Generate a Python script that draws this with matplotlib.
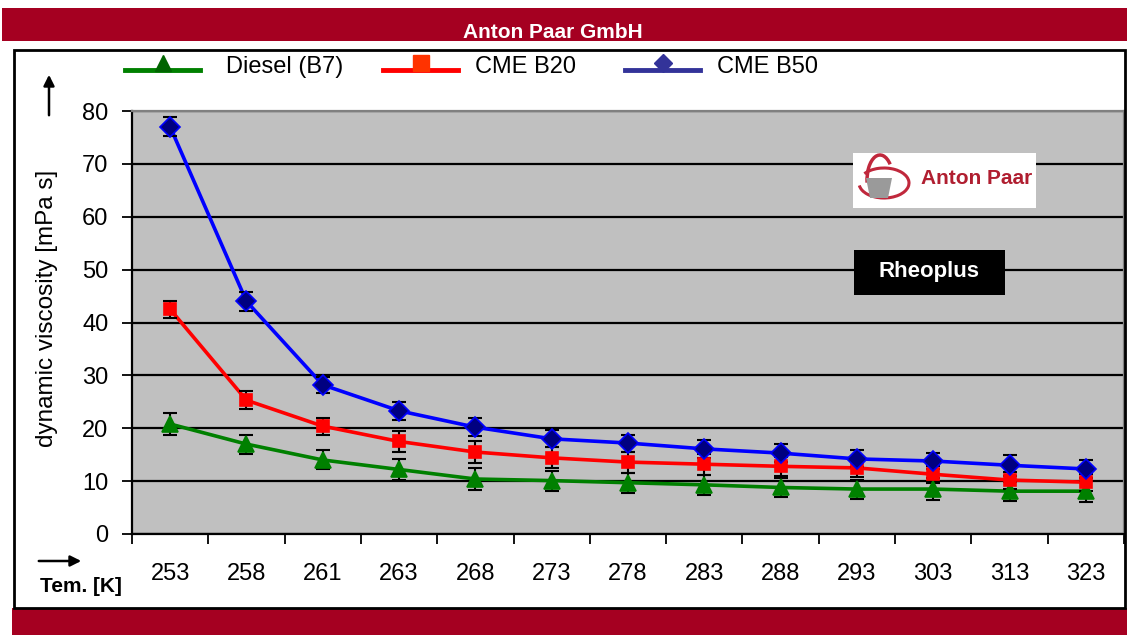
import matplotlib
matplotlib.use("Agg")
import matplotlib.pyplot as plt
from matplotlib.lines import Line2D
from matplotlib.patches import Rectangle, Arc, Polygon
import numpy as np

plt.rcParams['font.family'] = ['Liberation Sans', 'DejaVu Sans']

# Dados
temperaturas = ["253", "258", "261", "263", "268", "273", "278", "283", "288", "293", "303", "313", "323"]
diesel_b7 = [20.8, 17.0, 14.0, 12.2, 10.4, 10.1, 9.7, 9.3, 8.8, 8.5, 8.5, 8.1, 8.1]
cme_b20 = [42.5, 25.3, 20.4, 17.5, 15.5, 14.4, 13.6, 13.2, 12.8, 12.5, 11.3, 10.2, 9.8]
cme_b50 = [77.0, 44.0, 28.2, 23.3, 20.2, 18.0, 17.2, 16.1, 15.3, 14.2, 13.8, 13.0, 12.3]
erro_b7 = [2.0, 1.8, 1.8, 2.0, 2.0, 1.9, 1.9, 1.9, 1.8, 1.8, 2.0, 1.8, 2.0]
erro_b20 = [1.6, 1.7, 1.6, 1.9, 2.0, 2.0, 2.0, 2.0, 1.8, 1.8, 1.6, 1.6, 1.6]
erro_b50 = [1.8, 1.8, 1.5, 1.7, 1.7, 1.6, 1.6, 1.7, 1.7, 1.6, 1.6, 2.0, 1.7]
nomes = ["Diesel (B7)", "CME B20", "CME B50"]

W, H = 1127, 635
fig = plt.figure(figsize=(W / 100, H / 100), dpi=100)
fig.patch.set_facecolor("white")

def fx(px):
    return px / W

def fy(py):
    return 1 - py / H

vermelho = "#A50021"

# faixas vermelhas e moldura
fig.patches.append(Rectangle((fx(2), fy(41)), fx(1125), 33 / H, transform=fig.transFigure,
                             facecolor=vermelho, edgecolor="none"))
fig.patches.append(Rectangle((fx(12), 0), fx(1115), 27 / H, transform=fig.transFigure,
                             facecolor=vermelho, edgecolor="none"))
fig.patches.append(Rectangle((fx(14), fy(608)), fx(1111), 558 / H, transform=fig.transFigure,
                             facecolor="none", edgecolor="black", linewidth=2.0))
fig.text(fx(553), fy(32), "Anton Paar GmbH", color="white", fontsize=15, fontweight="bold",
         ha="center", va="center")

ax = fig.add_axes([fx(132), fy(534), fx(1124 - 132), (534 - 111) / H])
ax.set_facecolor("#C0C0C0")

x = np.arange(len(temperaturas))
series = [
    (diesel_b7, erro_b7, "#008000", "#008000", "^", 11),
    (cme_b20, erro_b20, "#FF0000", "#FF0000", "s", 9),
    (cme_b50, erro_b50, "#0000FF", "#000080", "D", 10),
]
for y, e, cor, cor_marc, marc, ms in series:
    ax.plot(x, y, color=cor, linewidth=2.6, zorder=3)
    ax.errorbar(x, y, yerr=e, fmt="none", ecolor="black", elinewidth=1.5,
                capsize=5, capthick=1.5, zorder=4)
    ax.plot(x, y, linestyle="none", marker=marc, markersize=ms, markerfacecolor=cor_marc,
            markeredgecolor=cor, markeredgewidth=1.2, zorder=5)

ax.set_xlim(-0.5, len(temperaturas) - 0.5)
ax.set_ylim(0, 80)
ax.set_yticks(np.arange(0, 81, 10))
ax.yaxis.grid(True, color="black", linewidth=1.6)
ax.set_axisbelow(True)
ax.set_xticks(np.arange(-0.5, len(temperaturas), 1))
ax.set_xticklabels([])
ax.set_xticks(x, minor=True)
ax.set_xticklabels(temperaturas, minor=True)
ax.tick_params(axis="x", which="major", direction="out", length=7, width=1.3, color="black")
ax.tick_params(axis="x", which="minor", length=0, pad=21, labelsize=17)
ax.tick_params(axis="y", direction="out", length=7, width=1.3, labelsize=17, pad=10)
for lado in ["left", "bottom"]:
    ax.spines[lado].set_linewidth(1.6)
    ax.spines[lado].set_color("black")
for lado in ["top", "right"]:
    ax.spines[lado].set_color("#808080")
    ax.spines[lado].set_linewidth(1.6)

# rótulos dos eixos
fig.text(fx(47), fy(308), "dynamic viscosity [mPa s]", rotation=90, fontsize=17.5,
         ha="center", va="center")
fig.text(fx(40), fy(586), "Tem. [K]", fontsize=15, fontweight="bold", ha="left", va="center")
fig.add_artist(plt.Annotation("", xy=(fx(49), fy(72)), xytext=(fx(49), fy(118)),
                              xycoords="figure fraction",
                              arrowprops=dict(arrowstyle="-|>", color="black", lw=1.8,
                                              mutation_scale=16)))
fig.add_artist(plt.Annotation("", xy=(fx(84), fy(561)), xytext=(fx(36), fy(561)),
                              xycoords="figure fraction",
                              arrowprops=dict(arrowstyle="-|>", color="black", lw=1.8,
                                              mutation_scale=16)))

# legenda desenhada à mão
leg_x = [125, 383, 625]
leg_txt = [226, 475, 717]
leg_cores = [("#008000", "#006400", "^", 12), ("#FF0000", "#FF3300", "s", 11),
             ("#333399", "#333399", "D", 9)]
for lx, tx, nome, (cor, cor_m, marc, ms) in zip(leg_x, leg_txt, nomes, leg_cores):
    fig.add_artist(Line2D([fx(lx), fx(lx + 75)], [fy(70), fy(70)], color=cor, linewidth=3.5,
                          transform=fig.transFigure))
    fig.add_artist(Line2D([fx(lx + 38)], [fy(63)], marker=marc, markersize=ms, color=cor_m,
                          markeredgecolor=cor_m, transform=fig.transFigure))
    fig.text(fx(tx), fy(67), nome, fontsize=17, ha="left", va="center")

# logotipo
fig.patches.append(Rectangle((fx(853), fy(208)), fx(183), 55 / H, transform=fig.transFigure,
                             facecolor="white", edgecolor="none", zorder=6))
fig.patches.append(Arc((fx(884), fy(183)), fx(50), 30 / H, theta1=190, theta2=500,
                       transform=fig.transFigure, color="#C0283C", linewidth=2.2, zorder=7))
fig.patches.append(Arc((fx(880), fy(180)), fx(26), 50 / H, theta1=70, theta2=200,
                       transform=fig.transFigure, color="#C0283C", linewidth=2.5, zorder=7))
fig.patches.append(Polygon([(fx(866), fy(178)), (fx(892), fy(178)), (fx(888), fy(198)),
                            (fx(870), fy(198))], closed=True, transform=fig.transFigure,
                           facecolor="#9A9A9A", edgecolor="none", zorder=7))
fig.text(fx(921), fy(178), "Anton Paar", color="#B01E30", fontsize=15, fontweight="bold",
         ha="left", va="center", zorder=8)

# caixa Rheoplus
fig.patches.append(Rectangle((fx(854), fy(295)), fx(151), 45 / H, transform=fig.transFigure,
                             facecolor="black", edgecolor="none", zorder=6))
fig.text(fx(929), fy(272), "Rheoplus", color="white", fontsize=16, fontweight="bold",
         ha="center", va="center", zorder=8)

fig.savefig("out.png", dpi=100)
